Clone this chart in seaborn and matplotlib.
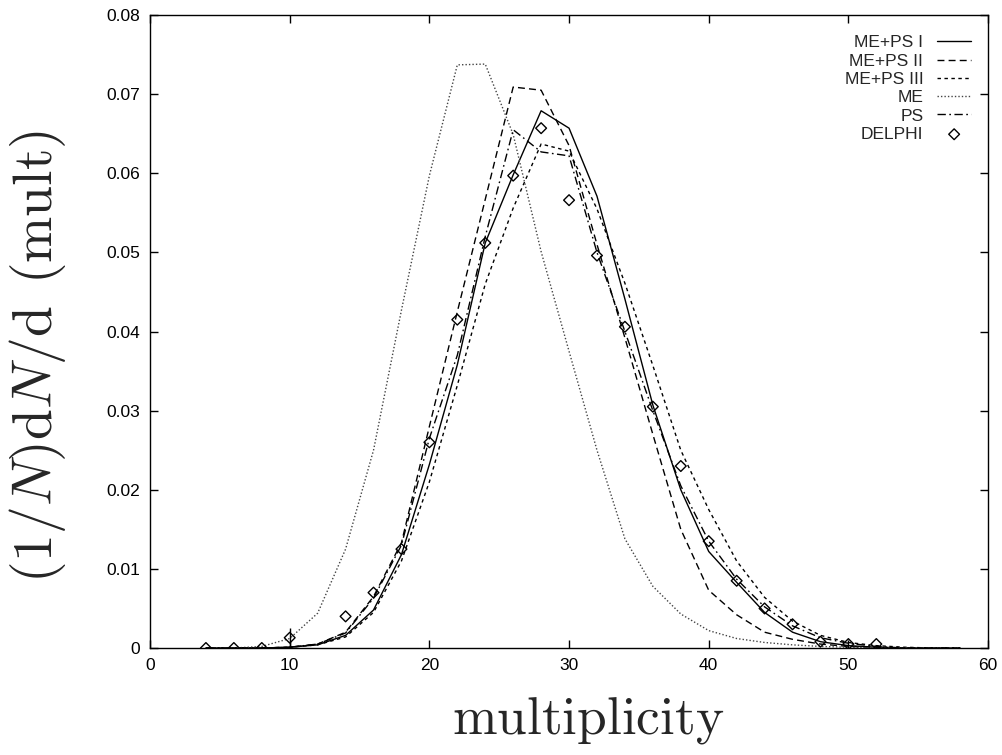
import numpy as np
import pandas as pd
import matplotlib
matplotlib.use("Agg")
import matplotlib.pyplot as plt
import seaborn as sns

# ---------------- data ----------------
mult = [4, 6, 8, 10, 12, 14, 16, 18, 20, 22, 24, 26, 28, 30, 32, 34, 36, 38, 40,
        42, 44, 46, 48, 50, 52, 54, 56, 58]

me_ps_1 = [0, 0, 0, 0.0001, 0.0004, 0.0016, 0.0048, 0.0118, 0.0232, 0.0358, 0.0512,
           0.0598, 0.0679, 0.0657, 0.0571, 0.0441, 0.0307, 0.0200, 0.0122, 0.0083,
           0.0045, 0.0020, 0.0008, 0.0003, 0.0001, 0, 0, 0]
me_ps_2 = [0, 0, 0, 0.0001, 0.0005, 0.0020, 0.0065, 0.0133, 0.0280, 0.0425, 0.0567,
           0.0709, 0.0705, 0.0635, 0.0510, 0.0392, 0.0270, 0.0150, 0.0073, 0.0042,
           0.0020, 0.0011, 0.0005, 0.0002, 0.0001, 0, 0, 0]
me_ps_3 = [0, 0, 0, 0.0001, 0.0004, 0.0014, 0.0045, 0.0110, 0.0210, 0.0332, 0.0460,
           0.0556, 0.0637, 0.0628, 0.0555, 0.0461, 0.0357, 0.0250, 0.0175, 0.0110,
           0.0064, 0.0034, 0.0016, 0.0007, 0.0003, 0.0001, 0, 0]
me_only = [0, 0, 0.0002, 0.0012, 0.0044, 0.0125, 0.0250, 0.0427, 0.0597, 0.0737,
           0.0738, 0.0649, 0.0501, 0.0375, 0.0250, 0.0138, 0.0078, 0.0043, 0.0022,
           0.0012, 0.0007, 0.0004, 0.0002, 0.0001, 0, 0, 0, 0]
ps_only = [0, 0, 0, 0.0001, 0.0005, 0.0019, 0.0063, 0.0130, 0.0265, 0.0370, 0.0520,
           0.0655, 0.0627, 0.0622, 0.0500, 0.0400, 0.0300, 0.0205, 0.0135, 0.0087,
           0.0052, 0.0028, 0.0013, 0.0006, 0.0002, 0, 0, 0]

delphi_x = [4, 6, 8, 10, 14, 16, 18, 20, 22, 24, 26, 28, 30, 32, 34, 36, 38, 40,
            42, 44, 46, 48, 50, 52]
delphi_y = [0, 0, 0, 0.0013, 0.0040, 0.0070, 0.0125, 0.0260, 0.0415, 0.0512, 0.0597,
            0.0657, 0.0566, 0.0496, 0.0406, 0.0305, 0.0230, 0.0135, 0.0085, 0.0050,
            0.0030, 0.0008, 0.0005, 0.0005]
delphi_err = [0, 0, 0, 0.0012, 0, 0, 0, 0, 0, 0, 0, 0, 0, 0, 0, 0, 0, 0, 0, 0, 0, 0, 0, 0]

series_names = ["ME+PS I", "ME+PS II", "ME+PS III", "ME", "PS"]
x_ticks = [0, 10, 20, 30, 40, 50, 60]
x_tick_labels = ["0", "10", "20", "30", "40", "50", "60"]
y_ticks = [0, 0.01, 0.02, 0.03, 0.04, 0.05, 0.06, 0.07, 0.08]
y_tick_labels = ["0", "0.01", "0.02", "0.03", "0.04", "0.05", "0.06", "0.07", "0.08"]

# ---------------- style ----------------
sns.set_theme(style="ticks")
plt.rcParams["font.family"] = ["Liberation Sans", "DejaVu Sans"]
plt.rcParams["mathtext.fontset"] = "cm"

fig = plt.figure(figsize=(10.03, 7.55), dpi=100)
ax = fig.add_axes([0.1496, 0.1417, 0.8355, 0.8384])

series_vals = [me_ps_1, me_ps_2, me_ps_3, me_only, ps_only]
styles = [
    dict(linestyle="-", color="black", linewidth=1.0),
    dict(linestyle=(0, (5, 3)), color="black", linewidth=1.0),
    dict(linestyle=(0, (2.5, 2.5)), color="black", linewidth=1.0),
    dict(linestyle=(0, (1, 1.5)), color="#444444", linewidth=1.0),
    dict(linestyle=(0, (6, 2.5, 1.2, 2.5)), color="black", linewidth=1.0),
]

for name, vals, st in zip(series_names, series_vals, styles):
    df = pd.DataFrame({"mult": mult, "val": vals})
    sns.lineplot(data=df, x="mult", y="val", ax=ax, label=name, **st)

ax.errorbar(delphi_x, delphi_y, yerr=delphi_err, fmt="none", ecolor="black",
            elinewidth=1.0, capsize=0)
dd = pd.DataFrame({"mult": delphi_x, "val": delphi_y})
sns.scatterplot(data=dd, x="mult", y="val", ax=ax, marker="D", s=30,
                facecolors="none", edgecolor="black", linewidth=1.0,
                label="DELPHI", zorder=5)

ax.set_xlim(0, 60)
ax.set_ylim(0, 0.08)
ax.set_xticks(x_ticks)
ax.set_xticklabels(x_tick_labels)
ax.set_yticks(y_ticks)
ax.set_yticklabels(y_tick_labels)
ax.tick_params(direction="in", length=6, width=1, top=True, right=True,
               labelsize=12.5, pad=7, colors="black")
for sp in ax.spines.values():
    sp.set_visible(True)
    sp.set_linewidth(1.0)
    sp.set_color("black")

ax.set_xlabel(r"$\mathrm{multiplicity}$", fontsize=38.5)
ax.xaxis.set_label_coords(0.5227, -0.074)
ax.set_ylabel(r"$(1/N)\mathrm{d}N/\mathrm{d}\;\,(\mathrm{mult})$", fontsize=40)
ax.yaxis.set_label_coords(-0.098, 0.461)

leg = ax.legend(loc="upper right", bbox_to_anchor=(0.988, 0.979), frameon=False,
                markerfirst=False, fontsize=12.5, handlelength=1.95,
                handletextpad=0.8, labelspacing=0.18, borderaxespad=0.0)

fig.savefig("out.png", dpi=100)
